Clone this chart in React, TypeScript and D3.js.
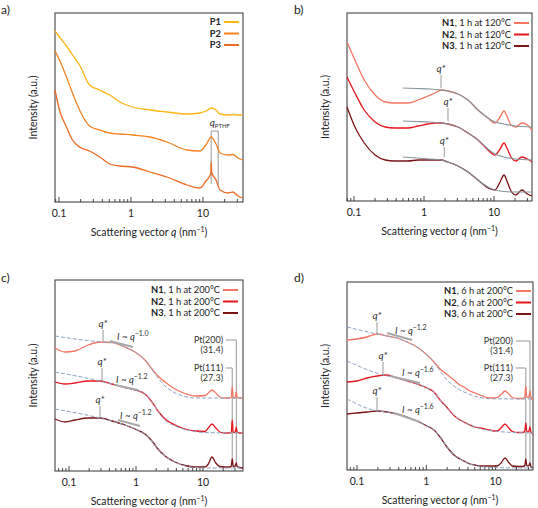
import React from "react";
import * as d3 from "d3";

// ---------------- Panel a data ----------------
const qA = [0.088, 0.1016, 0.127, 0.154, 0.193, 0.266, 0.367, 0.506, 0.7, 1.06, 1.83, 3.16, 6.0, 9.1, 11.0, 13.0, 15.2, 17.3, 22.4, 26, 30.8, 35.6];
const P1 = [17.1, 16.5, 15.6, 14.7, 13.7, 11.7, 11.2, 10.7, 10.0, 9.5, 9.2, 9.0, 8.8, 8.9, 9.1, 9.4, 9.2, 8.8, 8.7, 8.75, 8.7, 8.7];
const P2 = [15.1, 14.2, 12.5, 10.9, 9.2, 7.6, 7.2, 6.9, 6.8, 6.7, 6.5, 6.0, 5.2, 5.1, 5.7, 6.5, 5.8, 4.9, 4.7, 4.75, 4.4, 4.2];
const qA3 = [0.088, 0.1016, 0.127, 0.154, 0.193, 0.266, 0.367, 0.506, 0.7, 1.06, 1.83, 3.16, 6.0, 9.1, 11.0, 12.4, 12.85, 13.05, 13.25, 15.2, 17.3, 22.4, 26, 30.8, 35.6];
const P3 = [11.2, 9.2, 7.5, 6.2, 5.5, 5.1, 4.5, 3.8, 3.6, 3.5, 3.0, 2.5, 1.7, 1.4, 2.1, 2.6, 2.85, 4.0, 2.95, 2.2, 1.2, 0.9, 1.0, 0.6, 0.4];
const pthfQ = [13.0, 16.3];
const pthfTop = 7.1;
const pthfBottom = [1.8, 1.7];

// ---------------- Panel b data ----------------
const qB = [0.0794, 0.103, 0.14, 0.2, 0.28, 0.38, 0.59, 0.82, 1.14, 1.44, 1.75, 2.2, 3.06, 4.25, 5.9, 8.2, 10.3, 12.2, 13.9, 15.3, 17.5, 20.5, 25, 30, 34.9];
const N1b = [15.9, 14.1, 12.1, 10.6, 9.9, 9.8, 9.8, 10.1, 10.5, 10.8, 11.1, 11.0, 10.7, 10.1, 9.1, 8.3, 7.8, 8.4, 9.0, 8.5, 7.6, 7.4, 7.8, 7.6, 7.1];
const N2b = [12.4, 10.8, 9.1, 7.9, 7.4, 7.3, 7.3, 7.5, 7.7, 7.8, 7.8, 7.7, 7.4, 6.8, 6.1, 5.1, 4.6, 5.2, 5.8, 5.3, 4.4, 4.0, 4.4, 4.2, 3.9];
const N3b = [9.4, 7.4, 5.8, 4.6, 4.1, 4.0, 4.0, 4.1, 4.1, 4.1, 4.1, 3.9, 3.5, 2.9, 2.1, 1.3, 1.1, 1.9, 2.6, 2.0, 1.0, 0.6, 1.1, 0.7, 0.5];
const qFitB = [0.5, 0.8, 1.2, 1.75, 2.2, 3.06, 4.25, 5.9, 8.2, 10.3, 13.9, 20, 34.9];
const fitN1b = [11.3, 11.25, 11.2, 11.1, 11.0, 10.7, 10.1, 9.1, 8.3, 7.9, 7.7, 7.5, 7.4];
const fitN2b = [8.0, 7.95, 7.9, 7.8, 7.7, 7.4, 6.8, 6.1, 5.2, 4.7, 4.4, 4.2, 4.1];
const fitN3b = [4.4, 4.3, 4.2, 4.1, 3.9, 3.5, 2.9, 2.1, 1.4, 1.1, 0.95, 0.9, 0.9];
const qStarBq = [1.75, 2.2, 1.95];
const qStarBlo = [11.3, 8.0, 4.4];
const qStarBhi = [12.6, 9.3, 5.4];

// ---------------- Panel c data ----------------
const qC = [0.0618, 0.0872, 0.1229, 0.192, 0.29, 0.438, 0.685, 0.966, 1.36, 1.73, 2.13, 2.71, 3.82, 5.39, 7.6, 10.7, 12, 13.6, 15.5, 17.8, 21, 25, 26.4, 27.3, 28.2, 29.5, 30.5, 31.4, 32.3, 35, 39.5];
const N1c = [12.3, 11.9, 12.0, 12.6, 12.9, 12.85, 12.4, 11.9, 11.1, 10.2, 9.5, 8.9, 8.2, 7.75, 7.5, 7.55, 7.8, 8.1, 7.8, 7.4, 7.3, 7.3, 7.35, 8.4, 7.35, 7.3, 7.45, 7.9, 7.35, 7.3, 7.3];
const N2c = [8.9, 8.7, 8.8, 9.0, 9.0, 8.7, 8.35, 8.1, 7.7, 6.9, 6.0, 5.2, 4.6, 4.2, 4.0, 3.95, 4.3, 4.7, 4.3, 3.9, 3.8, 3.8, 3.9, 5.1, 3.9, 3.85, 4.0, 4.4, 3.9, 3.8, 3.8];
const N3c = [5.2, 4.9, 5.1, 5.3, 5.3, 5.0, 4.6, 4.2, 3.7, 3.0, 2.2, 1.5, 0.9, 0.55, 0.4, 0.4, 0.7, 1.4, 0.8, 0.45, 0.4, 0.4, 0.5, 1.2, 0.5, 0.4, 0.6, 0.8, 0.45, 0.35, 0.3];
const qFitN1c = [0.0618, 0.322, 0.438, 0.685, 0.966, 1.36, 1.92, 2.71, 3.82, 5.39, 7.6, 39.5];
const fitN1c = [13.5, 12.9, 12.85, 12.4, 11.9, 11.1, 9.7, 8.5, 7.8, 7.45, 7.3, 7.3];
const qFitN2c = [0.0618, 0.311, 0.438, 0.685, 0.966, 1.36, 1.73, 2.13, 2.71, 3.82, 5.39, 7.6, 10.7, 39.5];
const fitN2c = [9.9, 8.95, 8.7, 8.35, 8.1, 7.7, 6.9, 6.0, 5.1, 4.5, 4.15, 3.95, 3.85, 3.8];
const qFitN3c = [0.0618, 0.29, 0.438, 0.685, 0.966, 1.36, 1.73, 2.13, 2.71, 3.82, 5.39, 7.6, 10.7, 39.5];
const fitN3c = [6.2, 5.3, 5.0, 4.6, 4.2, 3.7, 3.0, 2.2, 1.5, 0.9, 0.5, 0.35, 0.3, 0.3];
const qStarCq = [0.322, 0.311, 0.29];
const qStarClo = [13.0, 9.0, 5.3];
const qStarChi = [14.1, 10.3, 6.5];
const powCq0 = [0.409, 0.486, 0.538];
const powCq1 = [0.902, 1.07, 1.15];
const powCv0 = [13.0, 8.6, 5.1];
const powCv1 = [12.4, 8.1, 4.5];
const powClabQ = [0.52, 0.503, 0.577];
const powClabV = [13.5, 9.2, 5.6];
const powCexp = ["\u22121.0", "\u22121.2", "\u22121.2"];

// ---------------- Panel d data ----------------
const qD = [0.0717, 0.1, 0.1394, 0.1944, 0.271, 0.378, 0.527, 0.735, 1.025, 1.29, 1.58, 1.99, 2.51, 3.06, 3.5, 4.27, 5.04, 5.95, 7.03, 8.3, 9.48, 10.5, 12, 13.7, 15.5, 17.5, 21, 25, 26.4, 27.3, 28.2, 29.5, 30.5, 31.4, 32.3, 34.7];
const N1d = [13.0, 13.1, 13.3, 13.6, 13.4, 13.2, 12.8, 12.3, 11.5, 10.8, 10.1, 9.55, 9.0, 8.5, 8.3, 7.9, 7.7, 7.5, 7.3, 7.2, 7.2, 7.25, 7.55, 7.9, 7.6, 7.25, 7.15, 7.15, 7.3, 8.4, 7.3, 7.25, 7.4, 7.9, 7.3, 7.0];
const N2d = [8.8, 8.9, 9.2, 9.4, 9.5, 9.2, 8.9, 8.6, 8.2, 7.8, 7.0, 6.25, 5.45, 5.0, 4.8, 4.5, 4.3, 4.2, 4.1, 4.0, 3.9, 3.9, 4.2, 4.6, 4.2, 3.85, 3.75, 3.75, 3.9, 4.7, 3.9, 3.8, 3.95, 4.3, 3.8, 3.6];
const N3d = [5.6, 5.7, 5.8, 5.9, 5.8, 5.6, 5.3, 4.9, 4.4, 4.0, 3.3, 2.3, 1.5, 1.1, 0.9, 0.6, 0.5, 0.4, 0.4, 0.4, 0.4, 0.4, 0.7, 1.2, 0.75, 0.4, 0.35, 0.35, 0.45, 1.1, 0.45, 0.4, 0.5, 0.7, 0.35, 0.2];
const qFitN1d = [0.0717, 0.1944, 0.271, 0.378, 0.527, 0.735, 1.025, 1.29, 1.58, 1.99, 2.51, 3.06, 3.5, 4.27, 5.95, 8.3, 34.7];
const fitN1d = [14.3, 13.6, 13.4, 13.2, 12.8, 12.3, 11.5, 10.8, 9.9, 9.0, 8.4, 8.0, 7.8, 7.55, 7.25, 7.12, 7.1];
const qFitN2d = [0.0717, 0.237, 0.378, 0.527, 0.735, 1.025, 1.29, 1.58, 1.99, 2.51, 3.06, 4.27, 5.95, 8.3, 10.5, 34.7];
const fitN2d = [10.9, 9.5, 9.2, 8.9, 8.6, 8.2, 7.8, 7.0, 6.2, 5.45, 5.0, 4.5, 4.15, 3.95, 3.85, 3.7];
const qFitN3d = [0.0717, 0.1944, 0.271, 0.378, 0.527, 0.735, 1.025, 1.29, 1.58, 1.99, 2.51, 3.06, 4.27, 5.95, 8.3, 34.7];
const fitN3d = [7.1, 5.9, 5.8, 5.6, 5.3, 4.9, 4.4, 4.0, 3.3, 2.3, 1.5, 1.1, 0.6, 0.35, 0.25, 0.2];
const qStarDq = [0.1944, 0.237, 0.1944];
const qStarDlo = [13.6, 9.5, 5.9];
const qStarDhi = [14.8, 10.8, 7.3];
const powDq0 = [0.271, 0.299, 0.342];
const powDq1 = [0.622, 0.811, 0.811];
const powDv0 = [13.7, 9.4, 5.7];
const powDv1 = [13.0, 8.7, 4.8];
const powDlabQ = [0.353, 0.446, 0.446];
const powDlabV = [14.0, 9.8, 6.1];
const powDexp = ["\u22121.2", "\u22121.6", "\u22121.6"];

// Pt reflections
const ptQ = [27.3, 31.4];
const ptNames = ["Pt(111)", "Pt(200)"];
const ptVals = ["(27.3)", "(31.4)"];
const ptLabV_C = [10.3, 13.1];
const ptLabV_D = [10.2, 12.9];
const ptBottomV = [0.4, 0.3];

// Axis ticks
const tickVals = [0.1, 1, 10];
const tickLabels = ["0.1", "1", "10"];

// Legends
const legA = ["P1", "P2", "P3"];
const legN = ["N1", "N2", "N3"];
const legSufB = ", 1 h at 120\u00b0C";
const legSufC = ", 1 h at 200\u00b0C";
const legSufD = ", 6 h at 200\u00b0C";

// ---------------- styling ----------------
const FONT = "Lato, 'Open Sans', 'DejaVu Sans', sans-serif";
const colP = ["#fbb614", "#f5821f", "#ec6a23"];
const colN = ["#f47562", "#e6161d", "#7d1315"];
const FIT_B = "#86939a";
const DASH = "#8ea3c2";
const POW = "#a9a9a9";
const MARK = "#8c8c8c";
const FRAME = "#333";

type Frame = { left: number; right: number; top: number; bottom: number };
const frA: Frame = { left: 55, right: 243, top: 13, bottom: 202 };
const frB: Frame = { left: 347, right: 532, top: 13, bottom: 201 };
const frC: Frame = { left: 55, right: 243, top: 280, bottom: 471 };
const frD: Frame = { left: 347, right: 533, top: 282, bottom: 470 };

function mkX(dom: [number, number], f: Frame) {
  return d3.scaleLog().domain(dom).range([f.left, f.right]);
}
function mkY(f: Frame) {
  return d3.scaleLinear().domain([0, (f.bottom - f.top) / 10]).range([f.bottom, f.top]);
}
function path(x: any, y: any, q: number[], v: number[]) {
  return (
    d3
      .line<number>()
      .x((_, i) => x(q[i]))
      .y((d) => y(d))
      .curve(d3.curveMonotoneX)(v) || ""
  );
}

function Axes({ x, f, letter, letterX }: { x: any; f: Frame; letter: string; letterX: number }) {
  const ticks: number[] = x.ticks();
  const isMajor = (t: number) => Math.abs(Math.log10(t) - Math.round(Math.log10(t))) < 1e-6;
  const cx = (f.left + f.right) / 2;
  const cy = (f.top + f.bottom) / 2;
  return (
    <g>
      <rect x={f.left} y={f.top} width={f.right - f.left} height={f.bottom - f.top} fill="none" stroke={FRAME} strokeWidth={1} />
      {ticks.map((t, i) => (
        <line key={i} x1={x(t)} x2={x(t)} y1={f.bottom} y2={f.bottom - (isMajor(t) ? 5 : 3)} stroke={FRAME} strokeWidth={0.9} />
      ))}
      {tickVals.map((t, i) => (
        <text key={i} x={x(t)} y={f.bottom + 15} fontSize={10.5} textAnchor="middle" fill="#222">
          {tickLabels[i]}
        </text>
      ))}
      <text x={cx} y={f.bottom + 34} fontSize={10.5} textAnchor="middle" fill="#222">
        Scattering vector <tspan fontStyle="italic">q</tspan> (nm
        <tspan dy={-4} fontSize={7}>{"\u22121"}</tspan>
        <tspan dy={4}>)</tspan>
      </text>
      <text
        transform={`translate(${f.left - 18},${cy}) rotate(-90)`}
        fontSize={10.5}
        textAnchor="middle"
        fill="#222"
      >
        Intensity (a.u.)
      </text>
      <text x={letterX} y={f.top <= 20 ? 14 : 282} fontSize={12} fill="#222">
        {letter}
      </text>
    </g>
  );
}

function Legend({ f, names, suffix, colors, textX }: { f: Frame; names: string[]; suffix: string; colors: string[]; textX: number }) {
  return (
    <g>
      {names.map((n, i) => {
        const yy = f.top + 10 + i * 11.5;
        return (
          <g key={i}>
            <text x={textX} y={yy + 3.3} fontSize={9.3} textAnchor="end" fill="#222">
              <tspan fontWeight="bold">{n}</tspan>
              {suffix}
            </text>
            <line x1={textX + 3} x2={textX + 18} y1={yy} y2={yy} stroke={colors[i]} strokeWidth={2} />
          </g>
        );
      })}
    </g>
  );
}

function QStar({ x, y, q, lo, hi }: { x: any; y: any; q: number[]; lo: number[]; hi: number[] }) {
  return (
    <g>
      {q.map((qq, i) => (
        <g key={i}>
          <line x1={x(qq)} x2={x(qq)} y1={y(lo[i])} y2={y(hi[i])} stroke={MARK} strokeWidth={0.9} />
          <text x={x(qq)} y={y(hi[i]) - 3} fontSize={10} textAnchor="middle" fontStyle="italic" fill="#333">
            q*
          </text>
        </g>
      ))}
    </g>
  );
}

function PowerLaw({ x, y, q0, q1, v0, v1, lq, lv, ex }: any) {
  return (
    <g>
      {q0.map((_: number, i: number) => (
        <g key={i}>
          <line x1={x(q0[i])} x2={x(q1[i])} y1={y(v0[i])} y2={y(v1[i])} stroke={POW} strokeWidth={2} />
          <text x={x(lq[i])} y={y(lv[i]) + 3.5} fontSize={9.5} fill="#333">
            <tspan fontStyle="italic">I</tspan>
            {" ~ "}
            <tspan fontStyle="italic">q</tspan>
            <tspan dy={-4} fontSize={7}>{ex[i]}</tspan>
          </text>
        </g>
      ))}
    </g>
  );
}

function PtMarks({ x, y, labV, labQ }: { x: any; y: any; labV: number[]; labQ: number }) {
  const lx = x(labQ);
  return (
    <g>
      {ptQ.map((q, i) => {
        const yl = y(labV[i]);
        return (
          <g key={i}>
            <line x1={x(q)} x2={x(q)} y1={yl} y2={y(ptBottomV[0])} stroke={MARK} strokeWidth={0.9} />
            <line x1={lx + 3} x2={x(q)} y1={yl} y2={yl} stroke={MARK} strokeWidth={0.9} />
            <text x={lx} y={yl + 3.2} fontSize={9} textAnchor="end" fill="#333">
              {ptNames[i]}
            </text>
            <text x={lx} y={yl + 13} fontSize={9} textAnchor="end" fill="#333">
              {ptVals[i]}
            </text>
          </g>
        );
      })}
    </g>
  );
}

export default function App() {
  const xA = mkX([0.088, 36], frA);
  const yA = mkY(frA);
  const xB = mkX([0.0794, 34.9], frB);
  const yB = mkY(frB);
  const xC = mkX([0.0618, 39.5], frC);
  const yC = mkY(frC);
  const xD = mkX([0.0717, 34.7], frD);
  const yD = mkY(frD);

  const CW = 1.3;

  return (
    <svg width={538} height={508} style={{ position: "absolute", left: 0, top: 0 }} fontFamily={FONT}>
      <rect width={538} height={508} fill="#fff" />

      {/* Panel a */}
      <Axes x={xA} f={frA} letter="a)" letterX={1} />
      {pthfQ.map((q, i) => (
        <line key={i} x1={xA(q)} x2={xA(q)} y1={yA(pthfTop)} y2={yA(pthfBottom[i])} stroke={MARK} strokeWidth={0.9} />
      ))}
      <line x1={xA(pthfQ[0])} x2={xA(pthfQ[1])} y1={yA(pthfTop)} y2={yA(pthfTop)} stroke={MARK} strokeWidth={0.9} />
      <path d={path(xA, yA, qA, P1)} fill="none" stroke={colP[0]} strokeWidth={CW} />
      <path d={path(xA, yA, qA, P2)} fill="none" stroke={colP[1]} strokeWidth={CW} />
      <path d={path(xA, yA, qA3, P3)} fill="none" stroke={colP[2]} strokeWidth={CW} />
      <text x={xA(pthfQ[0]) - 1.5} y={yA(pthfTop) - 5} fontSize={10} fill="#333">
        <tspan fontStyle="italic">q</tspan>
        <tspan dy={2} fontSize={6}>PTHF</tspan>
      </text>
      <Legend f={{ ...frA, top: frA.top - 1 }} names={legA} suffix="" colors={colP} textX={221} />

      {/* Panel b */}
      <Axes x={xB} f={frB} letter="b)" letterX={294} />
      <path d={path(xB, yB, qB, N1b)} fill="none" stroke={colN[0]} strokeWidth={CW} />
      <path d={path(xB, yB, qB, N2b)} fill="none" stroke={colN[1]} strokeWidth={CW} />
      <path d={path(xB, yB, qB, N3b)} fill="none" stroke={colN[2]} strokeWidth={CW} />
      <path d={path(xB, yB, qFitB, fitN1b)} fill="none" stroke={FIT_B} strokeWidth={1.1} />
      <path d={path(xB, yB, qFitB, fitN2b)} fill="none" stroke={FIT_B} strokeWidth={1.1} />
      <path d={path(xB, yB, qFitB, fitN3b)} fill="none" stroke={FIT_B} strokeWidth={1.1} />
      <QStar x={xB} y={yB} q={qStarBq} lo={qStarBlo} hi={qStarBhi} />
      <Legend f={frB} names={legN} suffix={legSufB} colors={colN} textX={511} />

      {/* Panel c */}
      <Axes x={xC} f={frC} letter="c)" letterX={1} />
      <PtMarks x={xC} y={yC} labV={ptLabV_C} labQ={19.9} />
      <path d={path(xC, yC, qC, N1c)} fill="none" stroke={colN[0]} strokeWidth={CW} />
      <path d={path(xC, yC, qC, N2c)} fill="none" stroke={colN[1]} strokeWidth={CW} />
      <path d={path(xC, yC, qC, N3c)} fill="none" stroke={colN[2]} strokeWidth={CW} />
      <path d={path(xC, yC, qFitN1c, fitN1c)} fill="none" stroke={DASH} strokeWidth={1} strokeDasharray="4,2" />
      <path d={path(xC, yC, qFitN2c, fitN2c)} fill="none" stroke={DASH} strokeWidth={1} strokeDasharray="4,2" />
      <path d={path(xC, yC, qFitN3c, fitN3c)} fill="none" stroke={DASH} strokeWidth={1} strokeDasharray="4,2" />
      <PowerLaw x={xC} y={yC} q0={powCq0} q1={powCq1} v0={powCv0} v1={powCv1} lq={powClabQ} lv={powClabV} ex={powCexp} />
      <QStar x={xC} y={yC} q={qStarCq} lo={qStarClo} hi={qStarChi} />
      <Legend f={frC} names={legN} suffix={legSufC} colors={colN} textX={220} />

      {/* Panel d */}
      <Axes x={xD} f={frD} letter="d)" letterX={294} />
      <PtMarks x={xD} y={yD} labV={ptLabV_D} labQ={17.8} />
      <path d={path(xD, yD, qD, N1d)} fill="none" stroke={colN[0]} strokeWidth={CW} />
      <path d={path(xD, yD, qD, N2d)} fill="none" stroke={colN[1]} strokeWidth={CW} />
      <path d={path(xD, yD, qD, N3d)} fill="none" stroke={colN[2]} strokeWidth={CW} />
      <path d={path(xD, yD, qFitN1d, fitN1d)} fill="none" stroke={DASH} strokeWidth={1} strokeDasharray="4,2" />
      <path d={path(xD, yD, qFitN2d, fitN2d)} fill="none" stroke={DASH} strokeWidth={1} strokeDasharray="4,2" />
      <path d={path(xD, yD, qFitN3d, fitN3d)} fill="none" stroke={DASH} strokeWidth={1} strokeDasharray="4,2" />
      <PowerLaw x={xD} y={yD} q0={powDq0} q1={powDq1} v0={powDv0} v1={powDv1} lq={powDlabQ} lv={powDlabV} ex={powDexp} />
      <QStar x={xD} y={yD} q={qStarDq} lo={qStarDlo} hi={qStarDhi} />
      <Legend f={{ ...frD, top: frD.top - 1 }} names={legN} suffix={legSufD} colors={colN} textX={513} />
    </svg>
  );
}
